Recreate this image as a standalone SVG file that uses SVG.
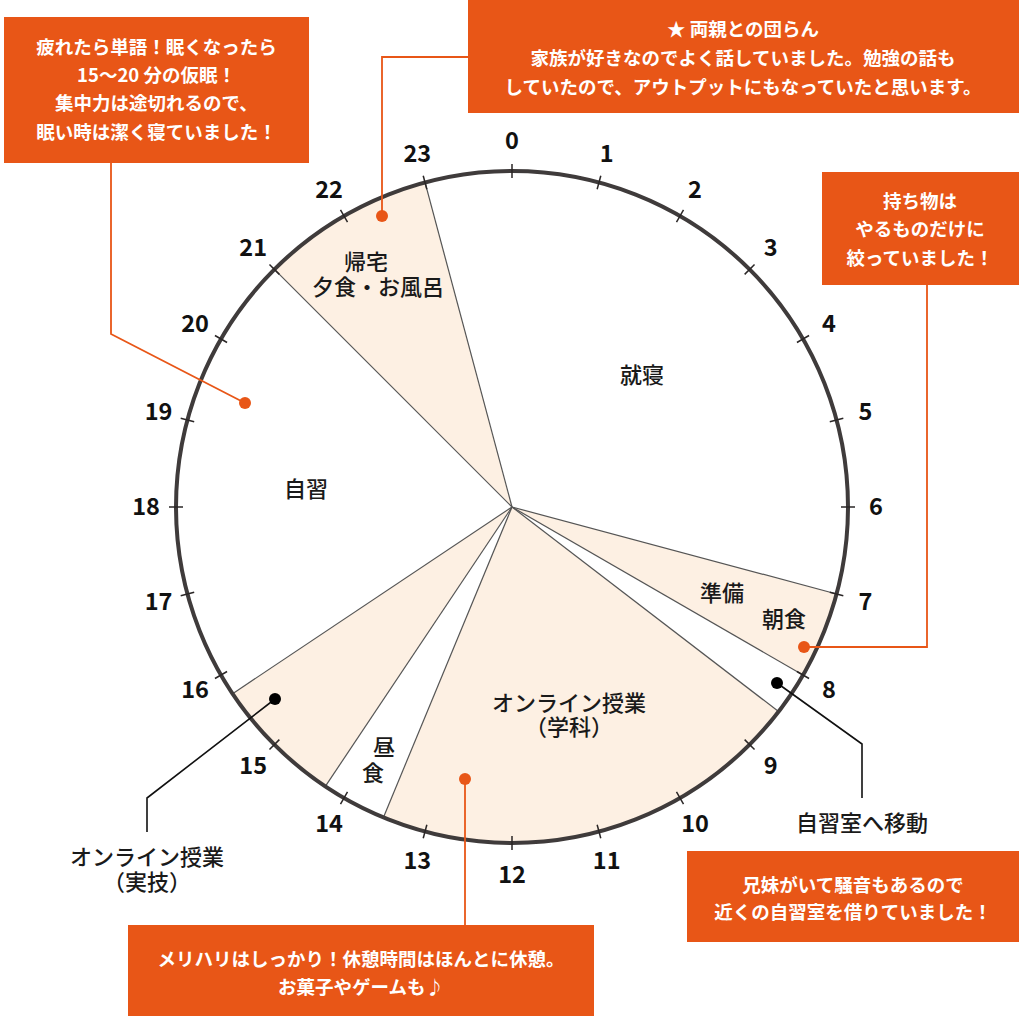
<svg xmlns="http://www.w3.org/2000/svg" xmlns:xlink="http://www.w3.org/1999/xlink" width="1024" height="1016" viewBox="0 0 1024 1016">
<style>
.sector{fill:#FDF0E3;stroke:none}
.radial{stroke:#555;stroke-width:1.2;fill:none}
.rim{fill:none;stroke:#3F3B3B;stroke-width:4}
.tick{stroke:#2a2626;stroke-width:1.5}
.hour{font-family:"Noto Sans CJK JP","Noto Sans",sans-serif;font-weight:700;font-size:23.5px;fill:#111;text-anchor:middle}
.lbl{font-family:"Noto Sans CJK JP",sans-serif;font-weight:500;font-size:22px;fill:#1a1a1a;text-anchor:middle}
.box{fill:#E85617}
.btxt{font-family:"Noto Sans CJK JP",sans-serif;font-weight:700;font-size:18.5px;fill:#fff;text-anchor:middle}
.oline{fill:none;stroke:#E85617;stroke-width:1.8}
.bline{fill:none;stroke:#111;stroke-width:1.6}
.odot{fill:#E85617}
.bdot{fill:#000}
</style>
<defs>
<line id="tk" class="tick" x1="512" y1="164" x2="512" y2="178"/>
</defs>
<rect width="1024" height="1016" fill="#fff"/>
<g id="clock">
<circle cx="512" cy="507" r="336" fill="#fff"/>
<path class="sector" d="M512,507 L274.42,269.42 A336,336 0 0 1 425.03,182.44 Z"/>
<path class="sector" d="M512,507 L836.56,593.97 A336,336 0 0 1 802.98,675 Z"/>
<path class="sector" d="M512,507 L778.57,711.55 A336,336 0 0 1 383.42,817.43 Z"/>
<path class="sector" d="M512,507 L325.33,786.38 A336,336 0 0 1 232.62,693.68 Z"/>
<g id="radials">
<line class="radial" x1="512" y1="507" x2="274.42" y2="269.42"/>
<line class="radial" x1="512" y1="507" x2="425.03" y2="182.44"/>
<line class="radial" x1="512" y1="507" x2="836.56" y2="593.97"/>
<line class="radial" x1="512" y1="507" x2="802.98" y2="675"/>
<line class="radial" x1="512" y1="507" x2="778.57" y2="711.55"/>
<line class="radial" x1="512" y1="507" x2="383.42" y2="817.43"/>
<line class="radial" x1="512" y1="507" x2="325.33" y2="786.38"/>
<line class="radial" x1="512" y1="507" x2="232.62" y2="693.68"/>
</g>
<circle class="rim" cx="512" cy="507" r="336"/>
<g id="ticks">
<use xlink:href="#tk"/>
<use xlink:href="#tk" transform="rotate(15 512 507)"/>
<use xlink:href="#tk" transform="rotate(30 512 507)"/>
<use xlink:href="#tk" transform="rotate(45 512 507)"/>
<use xlink:href="#tk" transform="rotate(60 512 507)"/>
<use xlink:href="#tk" transform="rotate(75 512 507)"/>
<use xlink:href="#tk" transform="rotate(90 512 507)"/>
<use xlink:href="#tk" transform="rotate(105 512 507)"/>
<use xlink:href="#tk" transform="rotate(120 512 507)"/>
<use xlink:href="#tk" transform="rotate(135 512 507)"/>
<use xlink:href="#tk" transform="rotate(150 512 507)"/>
<use xlink:href="#tk" transform="rotate(165 512 507)"/>
<use xlink:href="#tk" transform="rotate(180 512 507)"/>
<use xlink:href="#tk" transform="rotate(195 512 507)"/>
<use xlink:href="#tk" transform="rotate(210 512 507)"/>
<use xlink:href="#tk" transform="rotate(225 512 507)"/>
<use xlink:href="#tk" transform="rotate(240 512 507)"/>
<use xlink:href="#tk" transform="rotate(255 512 507)"/>
<use xlink:href="#tk" transform="rotate(270 512 507)"/>
<use xlink:href="#tk" transform="rotate(285 512 507)"/>
<use xlink:href="#tk" transform="rotate(300 512 507)"/>
<use xlink:href="#tk" transform="rotate(315 512 507)"/>
<use xlink:href="#tk" transform="rotate(330 512 507)"/>
<use xlink:href="#tk" transform="rotate(345 512 507)"/>
</g>
<g id="hours">
<text class="hour" x="512" y="149">0</text>
<text class="hour" x="606.7" y="161.5">1</text>
<text class="hour" x="695" y="198">2</text>
<text class="hour" x="770.8" y="256.2">3</text>
<text class="hour" x="829" y="332">4</text>
<text class="hour" x="865.5" y="420.3">5</text>
<text class="hour" x="876" y="515">6</text>
<text class="hour" x="865.5" y="609.7">7</text>
<text class="hour" x="829" y="698">8</text>
<text class="hour" x="770.8" y="773.8">9</text>
<text class="hour" x="695" y="832">10</text>
<text class="hour" x="606.7" y="868.5">11</text>
<text class="hour" x="512" y="883">12</text>
<text class="hour" x="417.3" y="868.5">13</text>
<text class="hour" x="329" y="832">14</text>
<text class="hour" x="253.2" y="773.8">15</text>
<text class="hour" x="195" y="698">16</text>
<text class="hour" x="158.5" y="609.7">17</text>
<text class="hour" x="146" y="515">18</text>
<text class="hour" x="158.5" y="420.3">19</text>
<text class="hour" x="195" y="332">20</text>
<text class="hour" x="253.2" y="256.2">21</text>
<text class="hour" x="329" y="198">22</text>
<text class="hour" x="417.3" y="161.5">23</text>
</g>
</g>
<g id="node-shushin"><text class="lbl" x="642" y="383">就寝</text></g>
<g id="node-jishu"><text class="lbl" x="306" y="497">自習</text></g>
<g id="node-kitaku"><text class="lbl"><tspan x="366" y="270">帰宅</tspan><tspan x="378" y="295">夕食・お風呂</tspan></text></g>
<g id="node-junbi"><text class="lbl" x="722" y="601">準備</text><text class="lbl" x="784" y="627">朝食</text></g>
<g id="node-gakka"><text class="lbl"><tspan x="569" y="711">オンライン授業</tspan><tspan x="569" y="735">（学科）</tspan></text></g>
<g id="node-chushoku"><text class="lbl"><tspan x="384" y="755">昼</tspan><tspan x="373" y="781">食</tspan></text></g>
<g id="node-ido"><text class="lbl" x="862" y="831">自習室へ移動</text></g>
<g id="node-jitsugi"><text class="lbl"><tspan x="147" y="865">オンライン授業</tspan><tspan x="147" y="890">（実技）</tspan></text></g>
<g id="connectors">
<polyline class="oline" points="111,163 111,334 245,403"/>
<polyline class="oline" points="468,57 382,57 382,216"/>
<polyline class="oline" points="927,285 927,647 804,647"/>
<polyline class="oline" points="465,925 465,779"/>
<polyline class="bline" points="777,683 862,744 862,798"/>
<polyline class="bline" points="275,699 147,798 147,832"/>
<circle class="odot" cx="245" cy="403" r="6"/>
<circle class="odot" cx="382" cy="216" r="6"/>
<circle class="odot" cx="804" cy="647" r="6"/>
<circle class="odot" cx="465" cy="779" r="6"/>
<circle class="bdot" cx="777" cy="683" r="6"/>
<circle class="bdot" cx="275" cy="699" r="6"/>
</g>
<g id="callout-nemui">
<rect class="box" x="4" y="17" width="305" height="146"/>
<text class="btxt"><tspan x="156.5" y="54">疲れたら単語！眠くなったら</tspan><tspan x="156.5" y="82">15〜20 分の仮眠！</tspan><tspan x="156.5" y="110">集中力は途切れるので、</tspan><tspan x="156.5" y="139">眠い時は潔く寝ていました！</tspan></text>
</g>
<g id="callout-danran">
<rect class="box" x="468" y="0" width="551" height="113"/>
<text class="btxt"><tspan x="743" y="36">★ 両親との団らん</tspan><tspan x="743" y="65">家族が好きなのでよく話していました。勉強の話も</tspan><tspan x="743" y="94">していたので、アウトプットにもなっていたと思います。</tspan></text>
</g>
<g id="callout-mochimono">
<rect class="box" x="822" y="172" width="197" height="113"/>
<text class="btxt"><tspan x="920" y="208">持ち物は</tspan><tspan x="920" y="236">やるものだけに</tspan><tspan x="920" y="265">絞っていました！</tspan></text>
</g>
<g id="callout-jishushitsu">
<rect class="box" x="687" y="851" width="332" height="91"/>
<text class="btxt"><tspan x="853" y="892">兄妹がいて騒音もあるので</tspan><tspan x="853" y="919">近くの自習室を借りていました！</tspan></text>
</g>
<g id="callout-merihari">
<rect class="box" x="128" y="925" width="466" height="91"/>
<text class="btxt"><tspan x="361" y="966">メリハリはしっかり！休憩時間はほんとに休憩。</tspan><tspan x="361" y="994">お菓子やゲームも♪</tspan></text>
</g>
</svg>
